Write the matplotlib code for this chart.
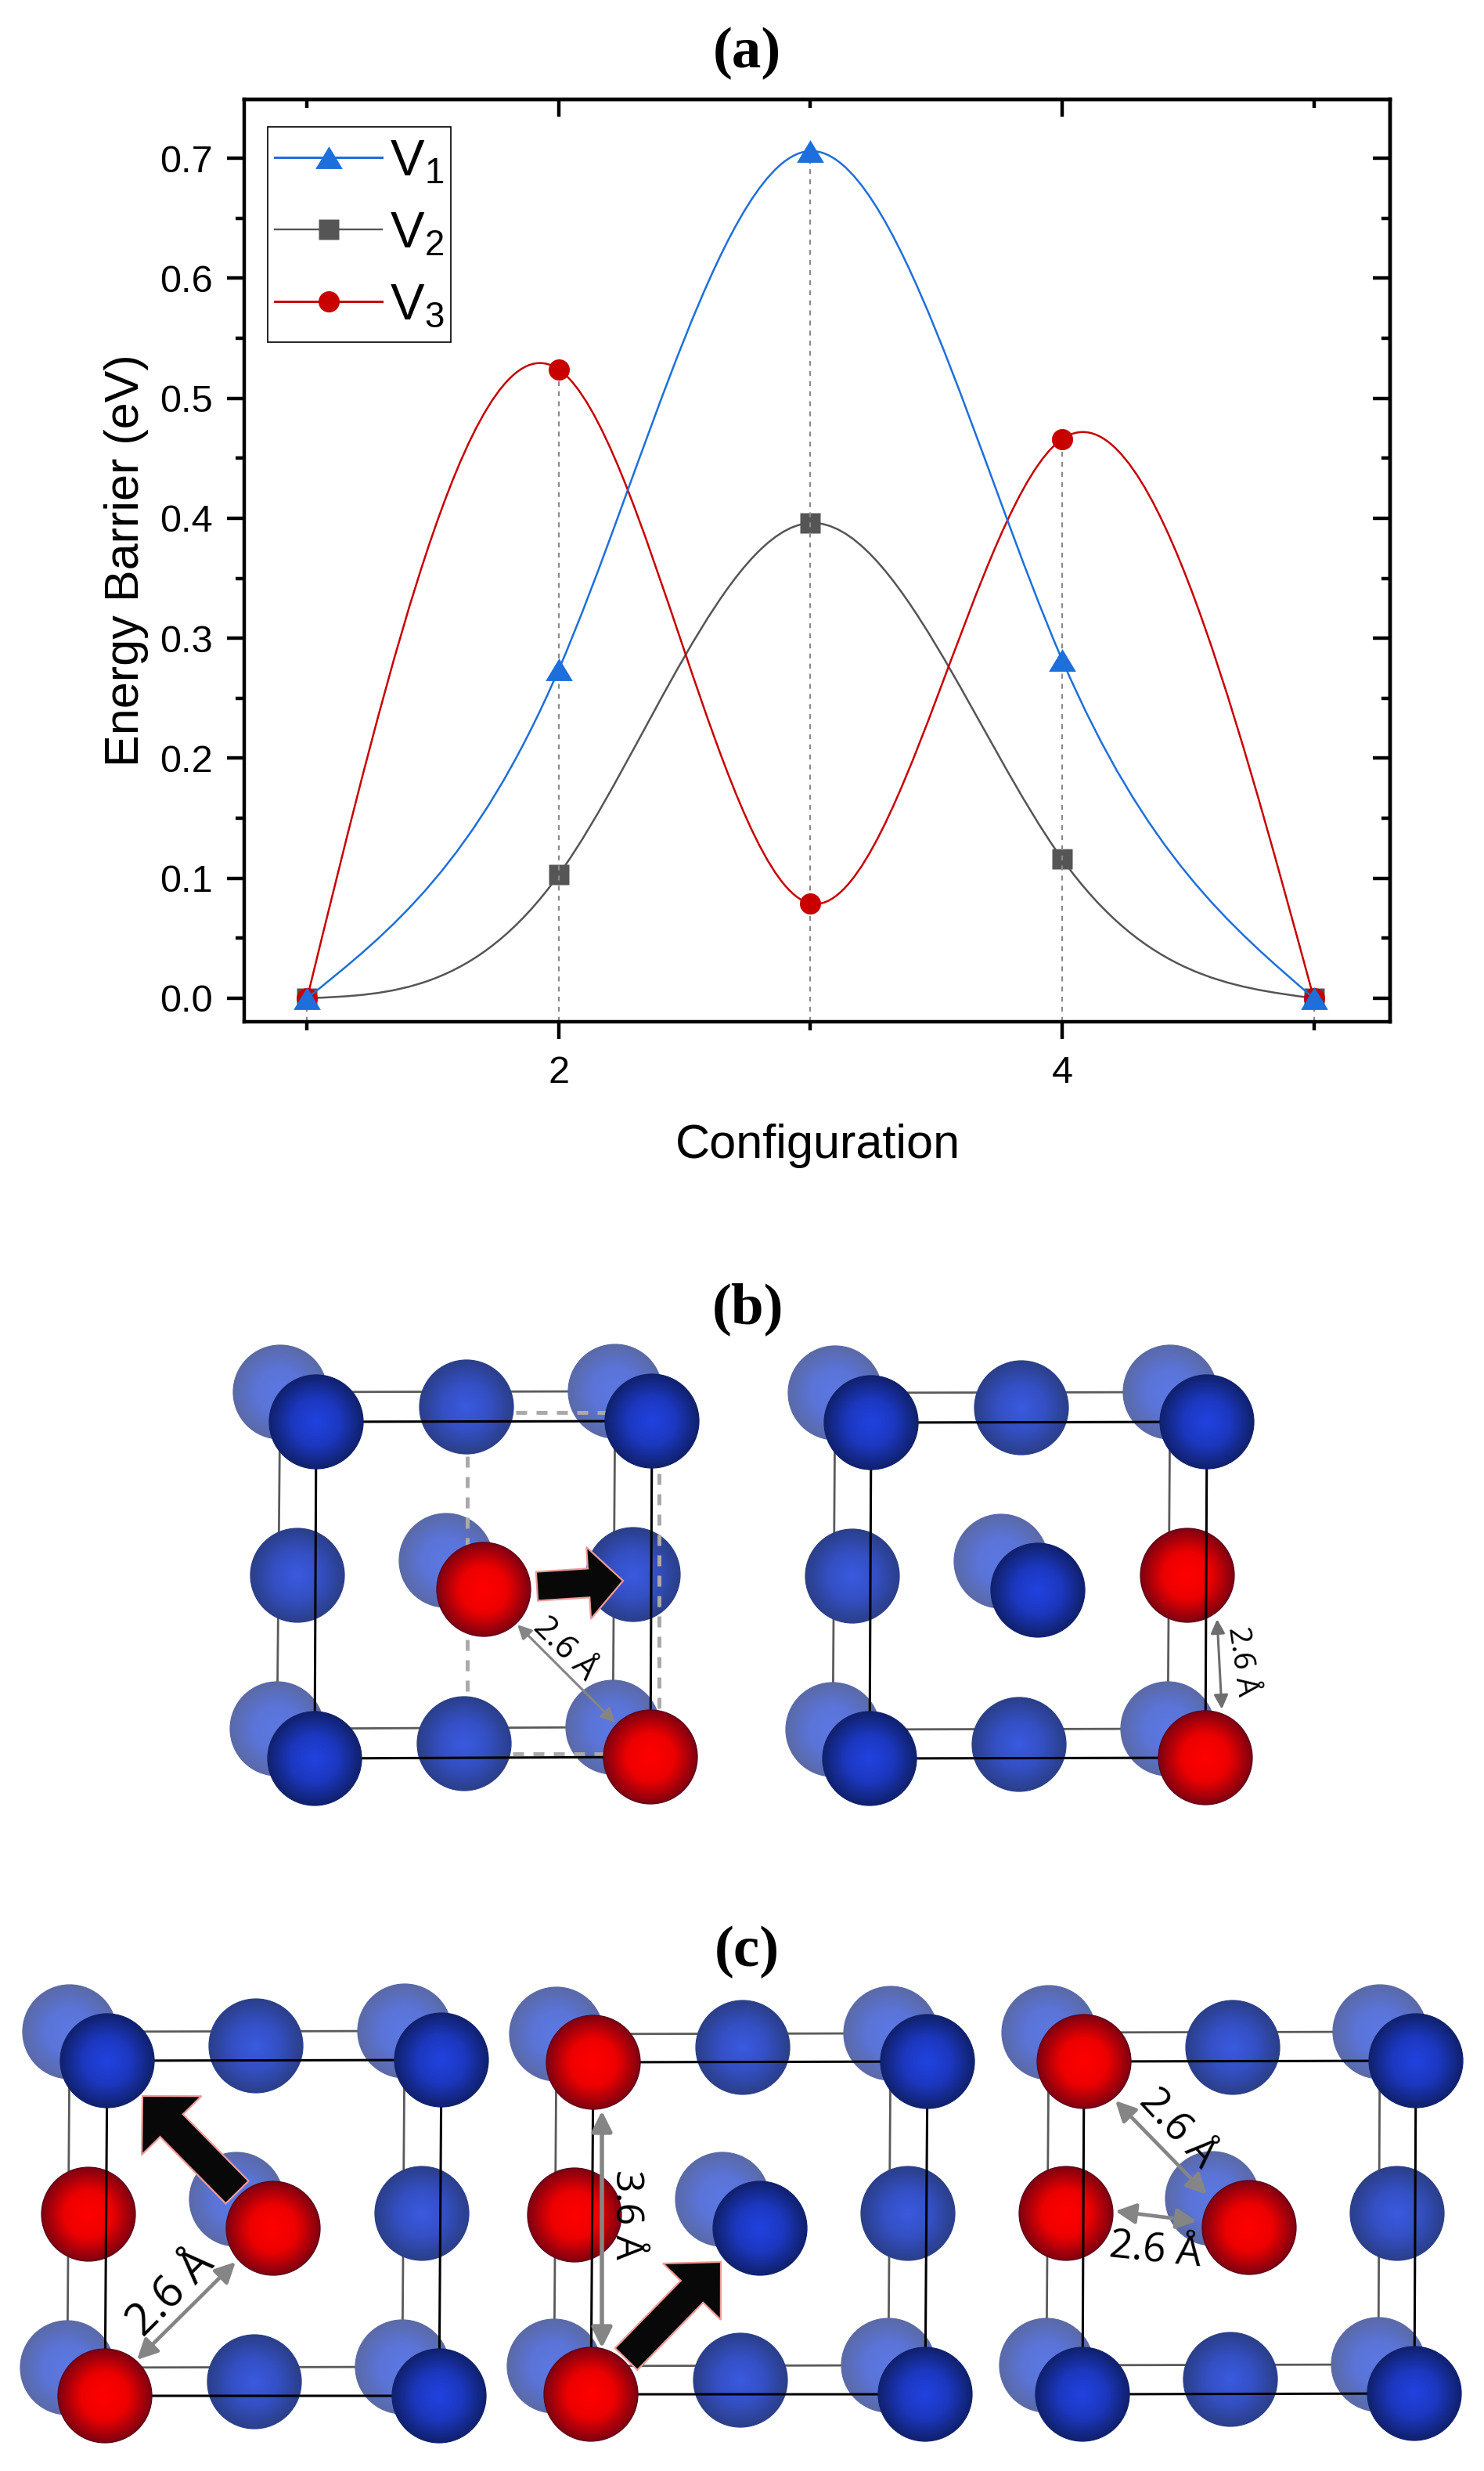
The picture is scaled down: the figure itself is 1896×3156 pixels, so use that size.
import numpy as np
import matplotlib
matplotlib.use('Agg')
import matplotlib.pyplot as plt
from matplotlib.colors import LinearSegmentedColormap
from matplotlib.lines import Line2D
from matplotlib.patches import Circle, FancyArrow, FancyArrowPatch, PathPatch, Rectangle
from matplotlib.path import Path
from matplotlib.ticker import MultipleLocator

plt.rcParams['font.family'] = ['Liberation Sans', 'DejaVu Sans']
plt.rcParams['mathtext.fontset'] = 'custom'
plt.rcParams['mathtext.rm'] = 'Liberation Sans'

# Energy barrier data
config = [1, 2, 3, 4, 5]
v1 = [0.0, 0.274, 0.706, 0.282, 0.0]
v2 = [0.0, 0.103, 0.396, 0.116, 0.0]
v3 = [0.0, 0.524, 0.079, 0.466, 0.0]
drop_top = [0.0, 0.524, 0.706, 0.466, 0.0]

# Atom centres in the schematic panels (image pixels)
# back/front order: top left, top right, bottom left, bottom right, centre
# mid order: top, bottom, left, right
b1_back = [(358, 1778), (786, 1777), (354, 2208), (783, 2206), (570, 1993)]
b1_mid = [(596, 1797), (593, 2227), (380, 2012), (809, 2011)]
b1_front = [(404, 1816), (833, 1815), (402, 2246), (831, 2244), (618, 2030)]
b2_back = [(1067, 1779), (1495, 1778), (1064, 2209), (1492, 2208), (1279, 1994)]
b2_mid = [(1305, 1798), (1302, 2228), (1089, 2013), (1517, 2012)]
b2_front = [(1113, 1817), (1542, 1816), (1111, 2246), (1540, 2245), (1326, 2031)]
c1_back = [(89, 2595), (517, 2594), (86, 3024), (514, 3023), (302, 2809)]
c1_mid = [(327, 2613), (325, 3042), (113, 2828), (539, 2827)]
c1_front = [(137, 2632), (564, 2631), (134, 3060), (561, 3060), (349, 2846)]
c2_back = [(711, 2598), (1138, 2597), (708, 3022), (1135, 3021), (923, 2809)]
c2_mid = [(949, 2615), (946, 3040), (734, 2829), (1160, 2827)]
c2_front = [(758, 2634), (1185, 2633), (755, 3058), (1182, 3058), (971, 2846)]
c3_back = [(1340, 2596), (1763, 2595), (1337, 3021), (1761, 3020), (1549, 2808)]
c3_mid = [(1575, 2615), (1572, 3039), (1362, 2827), (1785, 2827)]
c3_front = [(1385, 2633), (1809, 2632), (1383, 3058), (1807, 3057), (1596, 2845)]

colors = {'v1': '#1d6fdb', 'v2': '#555555', 'v3': '#c80000'}
atom_r = 60
# wider than tall, like the original triangles
tri = Path([(-1, -0.83), (1, -0.83), (0, 0.83), (-1, -0.83)], closed=True)


def natural_spline_path(x, y):
    # cubic spline through the markers, as bezier segments
    x = np.array(x, dtype=float)
    y = np.array(y, dtype=float)
    n = len(x)
    A = np.zeros((n, n))
    b = np.zeros(n)
    A[0, 0] = A[-1, -1] = 1
    for i in range(1, n - 1):
        A[i, i - 1:i + 2] = [1, 4, 1]
        b[i] = 6 * (y[i - 1] - 2 * y[i] + y[i + 1])
    m = np.linalg.solve(A, b)
    verts = [(x[0], y[0])]
    codes = [Path.MOVETO]
    for i in range(n - 1):
        s0 = y[i + 1] - y[i] - (2 * m[i] + m[i + 1]) / 6
        s1 = y[i + 1] - y[i] + (m[i] + 2 * m[i + 1]) / 6
        verts += [(x[i] + 1 / 3, y[i] + s0 / 3),
                  (x[i + 1] - 1 / 3, y[i + 1] - s1 / 3),
                  (x[i + 1], y[i + 1])]
        codes += [Path.CURVE4] * 3
    return Path(verts, codes)


W, H = 1896, 3156
fig = plt.figure(figsize=(W / 100, H / 100), dpi=100, facecolor='white')

# (a) the line chart
ax = fig.add_axes([312 / W, 1 - 1305 / H, (1776 - 312) / W, (1305 - 127) / H])
ax.vlines(config, -0.0196, drop_top, color='#8a8a8a', lw=1.6,
          linestyles=(0, (2.8, 3)), zorder=2.5)
for name, vals, mk, ms, z in [('v2', v2, 's', 19, 2), ('v3', v3, 'o', 19.5, 3), ('v1', v1, tri, 25, 4)]:
    ax.add_patch(PathPatch(natural_spline_path(config, vals), fill=False,
                           ec=colors[name], lw=1.8, zorder=z))
    ax.plot(config, vals, ls='none', marker=mk, ms=ms, color=colors[name],
            mec='none', zorder=z)

ax.set_xlim(0.75, 5.303)
ax.set_ylim(-0.0196, 0.749)
ax.yaxis.set_major_locator(MultipleLocator(0.1))
ax.yaxis.set_minor_locator(MultipleLocator(0.05))
ax.set_xticks([2, 4])
ax.set_xticks([1, 3, 5], minor=True)
ax.tick_params(axis='both', which='major', length=16, width=3.2, labelsize=35)
ax.tick_params(axis='both', which='minor', length=8, width=3.2)
ax.tick_params(axis='x', pad=15)
ax.tick_params(axis='y', pad=13)
ax.tick_params(axis='both', which='both', top=False, right=False)
for s in ax.spines.values():
    s.set_linewidth(3.2)

# inward ticks on the top and right
axt = ax.secondary_xaxis('top')
axt.set_xticks([2, 4])
axt.set_xticks([1, 3, 5], minor=True)
axt.tick_params(which='major', direction='in', length=16, width=3.2, labeltop=False)
axt.tick_params(which='minor', direction='in', length=8, width=3.2)
axr = ax.secondary_yaxis('right')
axr.yaxis.set_major_locator(MultipleLocator(0.1))
axr.yaxis.set_minor_locator(MultipleLocator(0.05))
axr.tick_params(which='major', direction='in', length=16, width=3.2, labelright=False)
axr.tick_params(which='minor', direction='in', length=8, width=3.2)
for sec in (axt, axr):
    for s in sec.spines.values():
        s.set_linewidth(3.2)

ax.set_xlabel('Configuration', fontsize=44)
ax.set_ylabel('Energy Barrier (eV)', fontsize=44)
ax.xaxis.set_label_coords((1045 - 312) / 1464, -(1464 - 1305) / 1178)
ax.yaxis.set_label_coords((162 - 312) / 1464, 1 - (716 - 127) / 1178)
ax.xaxis.label.set_verticalalignment('center')
ax.yaxis.label.set_verticalalignment('center')

handles = [Line2D([], [], color=colors['v1'], lw=2.2, marker=tri, ms=25, mec='none'),
           Line2D([], [], color=colors['v2'], lw=1.7, marker='s', ms=19, mec='none'),
           Line2D([], [], color=colors['v3'], lw=2.2, marker='o', ms=19.5, mec='none')]
# legend without frame, the box is taller than its rows so it gets its own rectangle
leg = ax.legend(handles, ['V$_{1}$', 'V$_{2}$', 'V$_{3}$'], loc='upper left',
                bbox_to_anchor=((342 - 312) / 1464, 1 - (168 - 127) / 1178),
                borderaxespad=0, fontsize=47, handlelength=2.1, handletextpad=0.15,
                labelspacing=0.49, borderpad=0.14, frameon=False)
leg.set_zorder(10)
ax.add_patch(Rectangle((342 / 1464 - 312 / 1464, 1 - (437 - 127) / 1178), 234 / 1464, 275 / 1178,
                       transform=ax.transAxes, fill=False, ec='black', lw=1.2, zorder=9))

# (b), (c) schematic panels, drawn on a full figure axes in pixel units
sc = fig.add_axes([0, 0, 1, 1], facecolor='none')
sc.set_axis_off()

atom_cmaps = {
    'back': LinearSegmentedColormap.from_list('back', ['#5c78e2', '#5a74d8', '#5b6aa8']),
    'mid': LinearSegmentedColormap.from_list('mid', ['#3a5ae0', '#3450c4', '#2b3f8a']),
    'front': LinearSegmentedColormap.from_list('front', ['#2142e0', '#1c38c0', '#10216e']),
    'red': LinearSegmentedColormap.from_list('red', ['#ff0000', '#ee0000', '#800010']),
}
edge_cols = {'back': '#5b6aa8', 'mid': '#2b3f8a', 'front': '#10216e', 'red': '#5e0018'}
gy, gx = np.mgrid[-1:1:121j, -1:1:121j]
shade = np.clip(np.hypot(gx, gy), 0, 1)


def atom(pos, kind, z):
    x, y = pos
    im = sc.imshow(shade, cmap=atom_cmaps[kind], vmin=0, vmax=1, aspect='auto',
                   extent=(x - atom_r, x + atom_r, y + atom_r, y - atom_r),
                   interpolation='bilinear', zorder=z)
    im.set_clip_path(Circle((x, y), atom_r, transform=sc.transData))
    sc.add_patch(Circle((x, y), atom_r, fill=False, ec=edge_cols[kind], lw=0.9, zorder=z))


def box(corners, color, lw, z):
    tl, tr, bl, br = corners[:4]
    xs = [tl[0], tr[0], br[0], bl[0], tl[0]]
    ys = [tl[1], tr[1], br[1], bl[1], tl[1]]
    sc.plot(xs, ys, color=color, lw=lw, zorder=z, solid_joinstyle='miter')


def cell(back, mid, front, red_mid=(), red_front=(), base=1):
    box(back, '#5a5a5a', 2.0, base)
    for p in back:
        atom(p, 'back', base + 0.1)
    for i, p in enumerate(mid):
        atom(p, 'red' if i in red_mid else 'mid', base + 0.2)
    box(front, 'black', 2.2, base + 0.3)
    for i, p in enumerate(front):
        atom(p, 'red' if i in red_front else 'front', base + 0.4)


def block_arrow(tail, tip, width, head_w, head_l):
    sc.add_patch(FancyArrow(tail[0], tail[1], tip[0] - tail[0], tip[1] - tail[1],
                            width=width, head_width=head_w, head_length=head_l,
                            length_includes_head=True, fc='#080808', ec='#f09a9a',
                            lw=1.6, joinstyle='miter', zorder=8))


def dim_arrow(start, end, lw, size, color='#858585'):
    sc.add_patch(FancyArrowPatch(start, end, arrowstyle='<|-|>,head_length=0.6,head_width=0.3',
                                 mutation_scale=size, shrinkA=0, shrinkB=0, color=color,
                                 lw=lw, zorder=9))


def dim_text(pos, s, rot, size):
    sc.text(pos[0], pos[1], s, rotation=rot, fontsize=size, ha='center', va='center',
            rotation_mode='anchor', family=['Open Sans', 'DejaVu Sans'], color='black', zorder=9)


cell(b1_back, b1_mid, b1_front, red_front=(3, 4))
cell(b2_back, b2_mid, b2_front, red_mid=(3,), red_front=(3,))
cell(c1_back, c1_mid, c1_front, red_mid=(2,), red_front=(2, 4))
cell(c2_back, c2_mid, c2_front, red_mid=(2,), red_front=(0, 2))
cell(c3_back, c3_mid, c3_front, red_mid=(2,), red_front=(0, 4))

# dashed supercell outline in the left (b) panel
dash_x = [[597, 597], [659, 842], [842, 842], [655, 842]]
dash_y = [[1860, 2166], [1804, 1804], [1804, 2240], [2240, 2240]]
for xs, ys in zip(dash_x, dash_y):
    sc.plot(xs, ys, color='#aaaaaa', lw=3.6, ls=(0, (2.8, 2.4)), zorder=1.25)

block_arrow((686, 2026), (796, 2019), 37, 92, 44)
block_arrow((303, 2800), (182, 2677), 41, 107, 53)
block_arrow((800, 3013), (921, 2889), 40, 103, 53)

dim_arrow((661, 2075), (786, 2200), 2.2, 18)
dim_arrow((1555, 2068), (1561, 2183), 2.2, 18, '#6e6e6e')
dim_arrow((301, 2889), (175, 3014), 3.4, 26)
dim_arrow((769, 2696), (769, 2999), 4, 26)
dim_arrow((1425, 2683), (1542, 2803), 3.4, 26)
dim_arrow((1425, 2824), (1529, 2837), 3.4, 26)

dim_text((722, 2106), '2.6 Å', -45, 30)
dim_text((1586, 2122), '2.6 Å', -82, 28)
dim_text((219, 2929), '2.6 Å', 45, 41)
dim_text((800, 2828), '3.6 Å', -90, 36)
dim_text((1504, 2719), '2.6 Å', -47, 37)
dim_text((1476, 2874), '2.6 Å', -6, 37)

panel_letters = ['(a)', '(b)', '(c)']
letter_y = [68, 1672, 2493]
letter_x = [954, 956, 954]
for s, px, py in zip(panel_letters, letter_x, letter_y):
    sc.text(px, py, s, fontsize=54, fontweight='bold', ha='center', va='center',
            family='Liberation Serif', zorder=12)

sc.set_xlim(0, W)
sc.set_ylim(H, 0)

fig.savefig('out.png', dpi=100)
plt.close(fig)
